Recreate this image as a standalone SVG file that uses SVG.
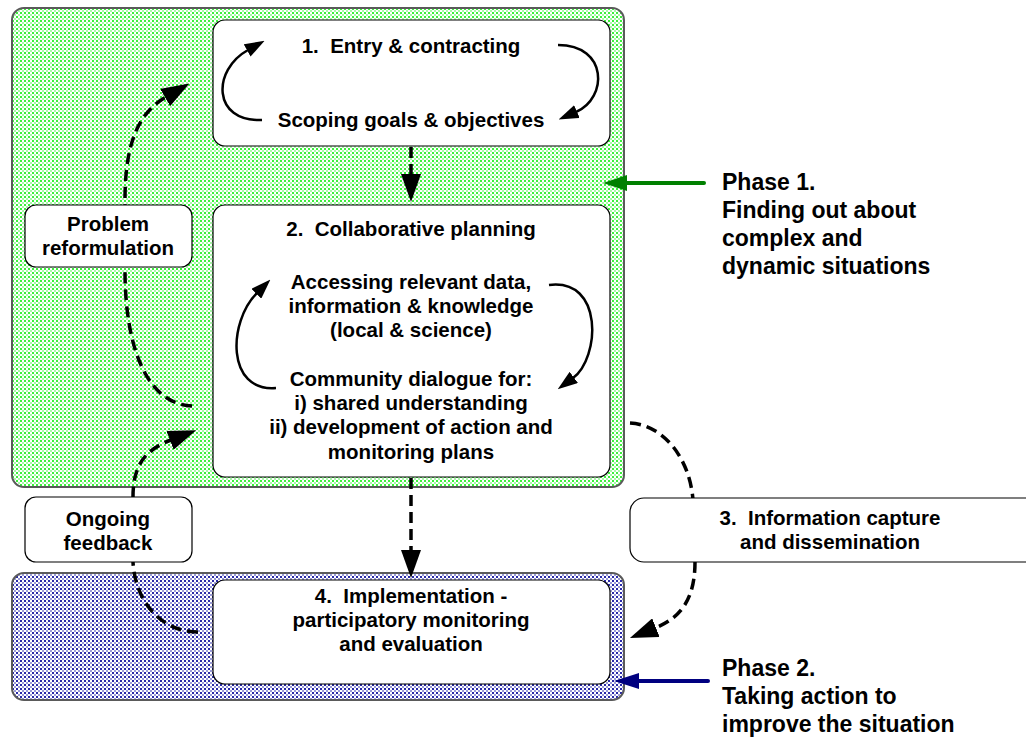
<svg xmlns="http://www.w3.org/2000/svg" width="1026" height="738" viewBox="0 0 1026 738">
  <defs>
    <pattern id="dotsGreen" width="4" height="4" patternUnits="userSpaceOnUse">
      <rect width="4" height="4" fill="#ffffff"/>
      <rect x="0" y="0" width="2" height="2" fill="#3cf03c"/>
      <rect x="2" y="2" width="2" height="2" fill="#a8f8a8"/>
    </pattern>
    <pattern id="dotsBlue" width="4" height="4" patternUnits="userSpaceOnUse">
      <rect width="4" height="4" fill="#ffffff"/>
      <rect x="0" y="0" width="2" height="2" fill="#2a2aa8"/>
      <rect x="2" y="2" width="2" height="2" fill="#9a9ad8"/>
    </pattern>
    <marker id="headBig" markerUnits="userSpaceOnUse" viewBox="0 0 28 20" markerWidth="28" markerHeight="20" refX="1" refY="10" orient="auto">
      <path d="M0,0 L28,10 L0,20 z" fill="#000"/>
    </marker>
    <marker id="headSmall" markerUnits="userSpaceOnUse" viewBox="0 0 20 14" markerWidth="20" markerHeight="14" refX="1" refY="7" orient="auto">
      <path d="M0,0 L20,7 L0,14 z" fill="#000"/>
    </marker>
    <style>
      text { font-family: "Liberation Sans", Arial, sans-serif; font-weight: bold; fill: #000; text-anchor: middle; white-space: pre; }
      .t17 { font-size: 20.5px; }
      .t19 { font-size: 23px; text-anchor: start; }
      .node { fill: #fff; stroke: #000; stroke-width: 1.2; }
      .phase { stroke: #5a5a5a; stroke-width: 2; }
      .dash { fill: none; stroke: #000; stroke-width: 3.5; stroke-dasharray: 11 6; }
      .loop { fill: none; stroke: #000; stroke-width: 2.5; }
    </style>
  </defs>

  <!-- phase backgrounds -->
  <g id="phase1-area">
    <rect class="phase" x="12" y="8" width="612" height="479" rx="12" fill="url(#dotsGreen)"/>
  </g>
  <g id="phase2-area">
    <rect class="phase" x="12" y="573" width="612" height="127" rx="12" fill="url(#dotsBlue)"/>
  </g>

  <!-- connectors between boxes -->
  <g id="connectors">
    <!-- step 1 to step 2 -->
    <path class="dash" d="M411,147 L411,175" marker-end="url(#headBig)"/>
    <!-- step 2 to step 4 -->
    <path class="dash" d="M411,478 L411,551" marker-end="url(#headBig)"/>
    <!-- problem reformulation loop -->
    <path class="dash" d="M192,406 C148,404 125,350 125,270 L125,200 C125,140 140,112 166,97" marker-end="url(#headBig)"/>
    <!-- ongoing feedback loop -->
    <path class="dash" d="M198,632 C160,632 135,600 133,562 L133,497 C133,465 145,450 171,440" marker-end="url(#headBig)"/>
    <!-- information capture loop -->
    <path class="dash" d="M630,423 C665,425 690,460 693,500 L695,562 C695,600 680,618 655,628" marker-end="url(#headBig)"/>
    <!-- phase pointers -->
    <path d="M704,183 L625,183" stroke="#008000" stroke-width="4" stroke-linecap="round" fill="none"/>
    <polygon points="603,183 627,175 627,191" fill="#008000"/>
    <path d="M708,681 L636,681" stroke="#000080" stroke-width="4" stroke-linecap="round" fill="none"/>
    <polygon points="614,681 639,673 639,689" fill="#000080"/>
  </g>

  <g id="step1">
    <rect class="node" x="213" y="20" width="397" height="126" rx="12"/>
    <text class="t17" x="411" y="53">1.  Entry &amp; contracting</text>
    <text class="t17" x="411" y="127">Scoping goals &amp; objectives</text>
  </g>

  <g id="step2">
    <rect class="node" x="213" y="205" width="397" height="272" rx="12"/>
    <text class="t17" x="411" y="236">2.  Collaborative planning</text>
    <text class="t17" x="411" y="289">Accessing relevant data,</text>
    <text class="t17" x="411" y="313">information &amp; knowledge</text>
    <text class="t17" x="411" y="337">(local &amp; science)</text>
    <text class="t17" x="411" y="386">Community dialogue for:</text>
    <text class="t17" x="411" y="410">i) shared understanding</text>
    <text class="t17" x="411" y="434">ii) development of action and</text>
    <text class="t17" x="411" y="459">monitoring plans</text>
  </g>

  <g id="step4">
    <rect class="node" x="213" y="580" width="397" height="104" rx="12"/>
    <text class="t17" x="411" y="603">4.  Implementation -</text>
    <text class="t17" x="411" y="627">participatory monitoring</text>
    <text class="t17" x="411" y="651">and evaluation</text>
  </g>

  <g id="problem-reformulation">
    <rect class="node" x="25" y="205" width="167" height="62" rx="11"/>
    <text class="t17" x="108" y="231">Problem</text>
    <text class="t17" x="108" y="255">reformulation</text>
  </g>

  <g id="ongoing-feedback">
    <rect class="node" x="25" y="497" width="167" height="65" rx="11"/>
    <text class="t17" x="108" y="526">Ongoing</text>
    <text class="t17" x="108" y="550">feedback</text>
  </g>

  <g id="step3">
    <rect class="node" x="630" y="498" width="420" height="64" rx="14"/>
    <text class="t17" x="830" y="525">3.  Information capture</text>
    <text class="t17" x="830" y="549">and dissemination</text>
  </g>

  <!-- cycles drawn inside steps 1 and 2 -->
  <g id="inner-cycles">
    <path class="loop" d="M262,120 C212,122 212,70 248,50" marker-end="url(#headSmall)"/>
    <path class="loop" d="M558,45 C608,45 608,98 576,112" marker-end="url(#headSmall)"/>
    <path class="loop" d="M276,388 C226,392 228,322 257,293" marker-end="url(#headSmall)"/>
    <path class="loop" d="M549,285 C604,278 600,358 573,378" marker-end="url(#headSmall)"/>
  </g>

  <g id="phase1-label">
    <text class="t19" x="722" y="190">Phase 1.</text>
    <text class="t19" x="722" y="218">Finding out about</text>
    <text class="t19" x="722" y="246">complex and</text>
    <text class="t19" x="722" y="274">dynamic situations</text>
  </g>

  <g id="phase2-label">
    <text class="t19" x="722" y="676">Phase 2.</text>
    <text class="t19" x="722" y="704">Taking action to</text>
    <text class="t19" x="722" y="732">improve the situation</text>
  </g>
</svg>
